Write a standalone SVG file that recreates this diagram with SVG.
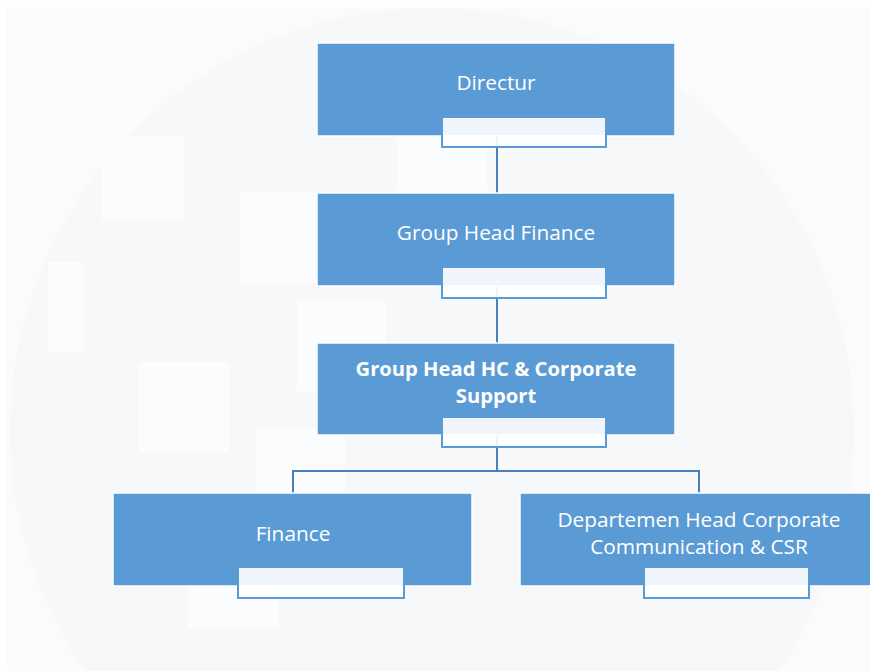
<svg xmlns="http://www.w3.org/2000/svg" width="870" height="671" viewBox="0 0 870 671">
  <style>
    .box { fill: #5b9bd5; stroke: #ffffff; stroke-width: 1.5; }
    .tag { fill: #ffffff; fill-opacity: 0.9; stroke: #5b9bd5; stroke-width: 2; }
    .lbl { font-family: "Open Sans", "Liberation Sans", sans-serif; font-size: 20.8px; fill: #ffffff; text-anchor: middle; }
    .bold { font-weight: bold; font-size: 20.2px; }
    .link { fill: none; stroke: #4a80bc; stroke-width: 2; }
    .tile { fill: #fbfcfd; }
  </style>

  <!-- backdrop: page, faint circle and pale tiles -->
  <rect x="0" y="0" width="870" height="671" fill="#ffffff"/>
  <rect x="7" y="7" width="863" height="664" fill="#fbfbfc"/>
  <circle cx="432" cy="430" r="422" fill="#f6f8fa"/>
  <g id="tiles">
    <rect class="tile" x="101" y="137" width="83" height="84"/>
    <rect class="tile" x="240" y="193" width="80" height="90"/>
    <rect class="tile" x="397" y="138" width="90" height="53"/>
    <rect class="tile" x="48" y="262" width="36" height="90"/>
    <rect class="tile" x="297" y="301" width="89" height="90"/>
    <rect class="tile" x="139" y="362" width="90" height="90"/>
    <rect class="tile" x="256" y="429" width="89" height="64"/>
    <rect class="tile" x="188" y="586" width="90" height="42"/>
  </g>

  <!-- connectors -->
  <g id="connectors">
    <path class="link" d="M497,136 V193"/>
    <path class="link" d="M497,286 V343"/>
    <path class="link" d="M497,435 V471 H293 V493"/>
    <path class="link" d="M497,471 H699 V493"/>
  </g>

  <g id="directur">
    <rect class="box" x="317" y="43" width="358" height="93"/>
    <text class="lbl" x="496" y="90">Directur</text>
    <rect class="tag" x="442" y="117" width="164" height="30"/>
  </g>

  <g id="group-head-finance">
    <rect class="box" x="317" y="193" width="358" height="93"/>
    <text class="lbl" x="496" y="240">Group Head Finance</text>
    <rect class="tag" x="442" y="267" width="164" height="31"/>
  </g>

  <g id="group-head-hc">
    <rect class="box" x="317" y="343" width="358" height="92"/>
    <text class="lbl bold" x="496" y="376">Group Head HC &amp; Corporate</text>
    <text class="lbl bold" x="496" y="403">Support</text>
    <rect class="tag" x="442" y="417" width="164" height="30"/>
  </g>

  <g id="finance">
    <rect class="box" x="113" y="493" width="359" height="93"/>
    <text class="lbl" x="293" y="541">Finance</text>
    <rect class="tag" x="238" y="567" width="166" height="31"/>
  </g>

  <g id="corporate-communication">
    <rect class="box" x="520" y="493" width="358" height="93"/>
    <text class="lbl" x="699" y="527">Departemen Head Corporate</text>
    <text class="lbl" x="699" y="554">Communication &amp; CSR</text>
    <rect class="tag" x="644" y="567" width="165" height="31"/>
  </g>
</svg>
